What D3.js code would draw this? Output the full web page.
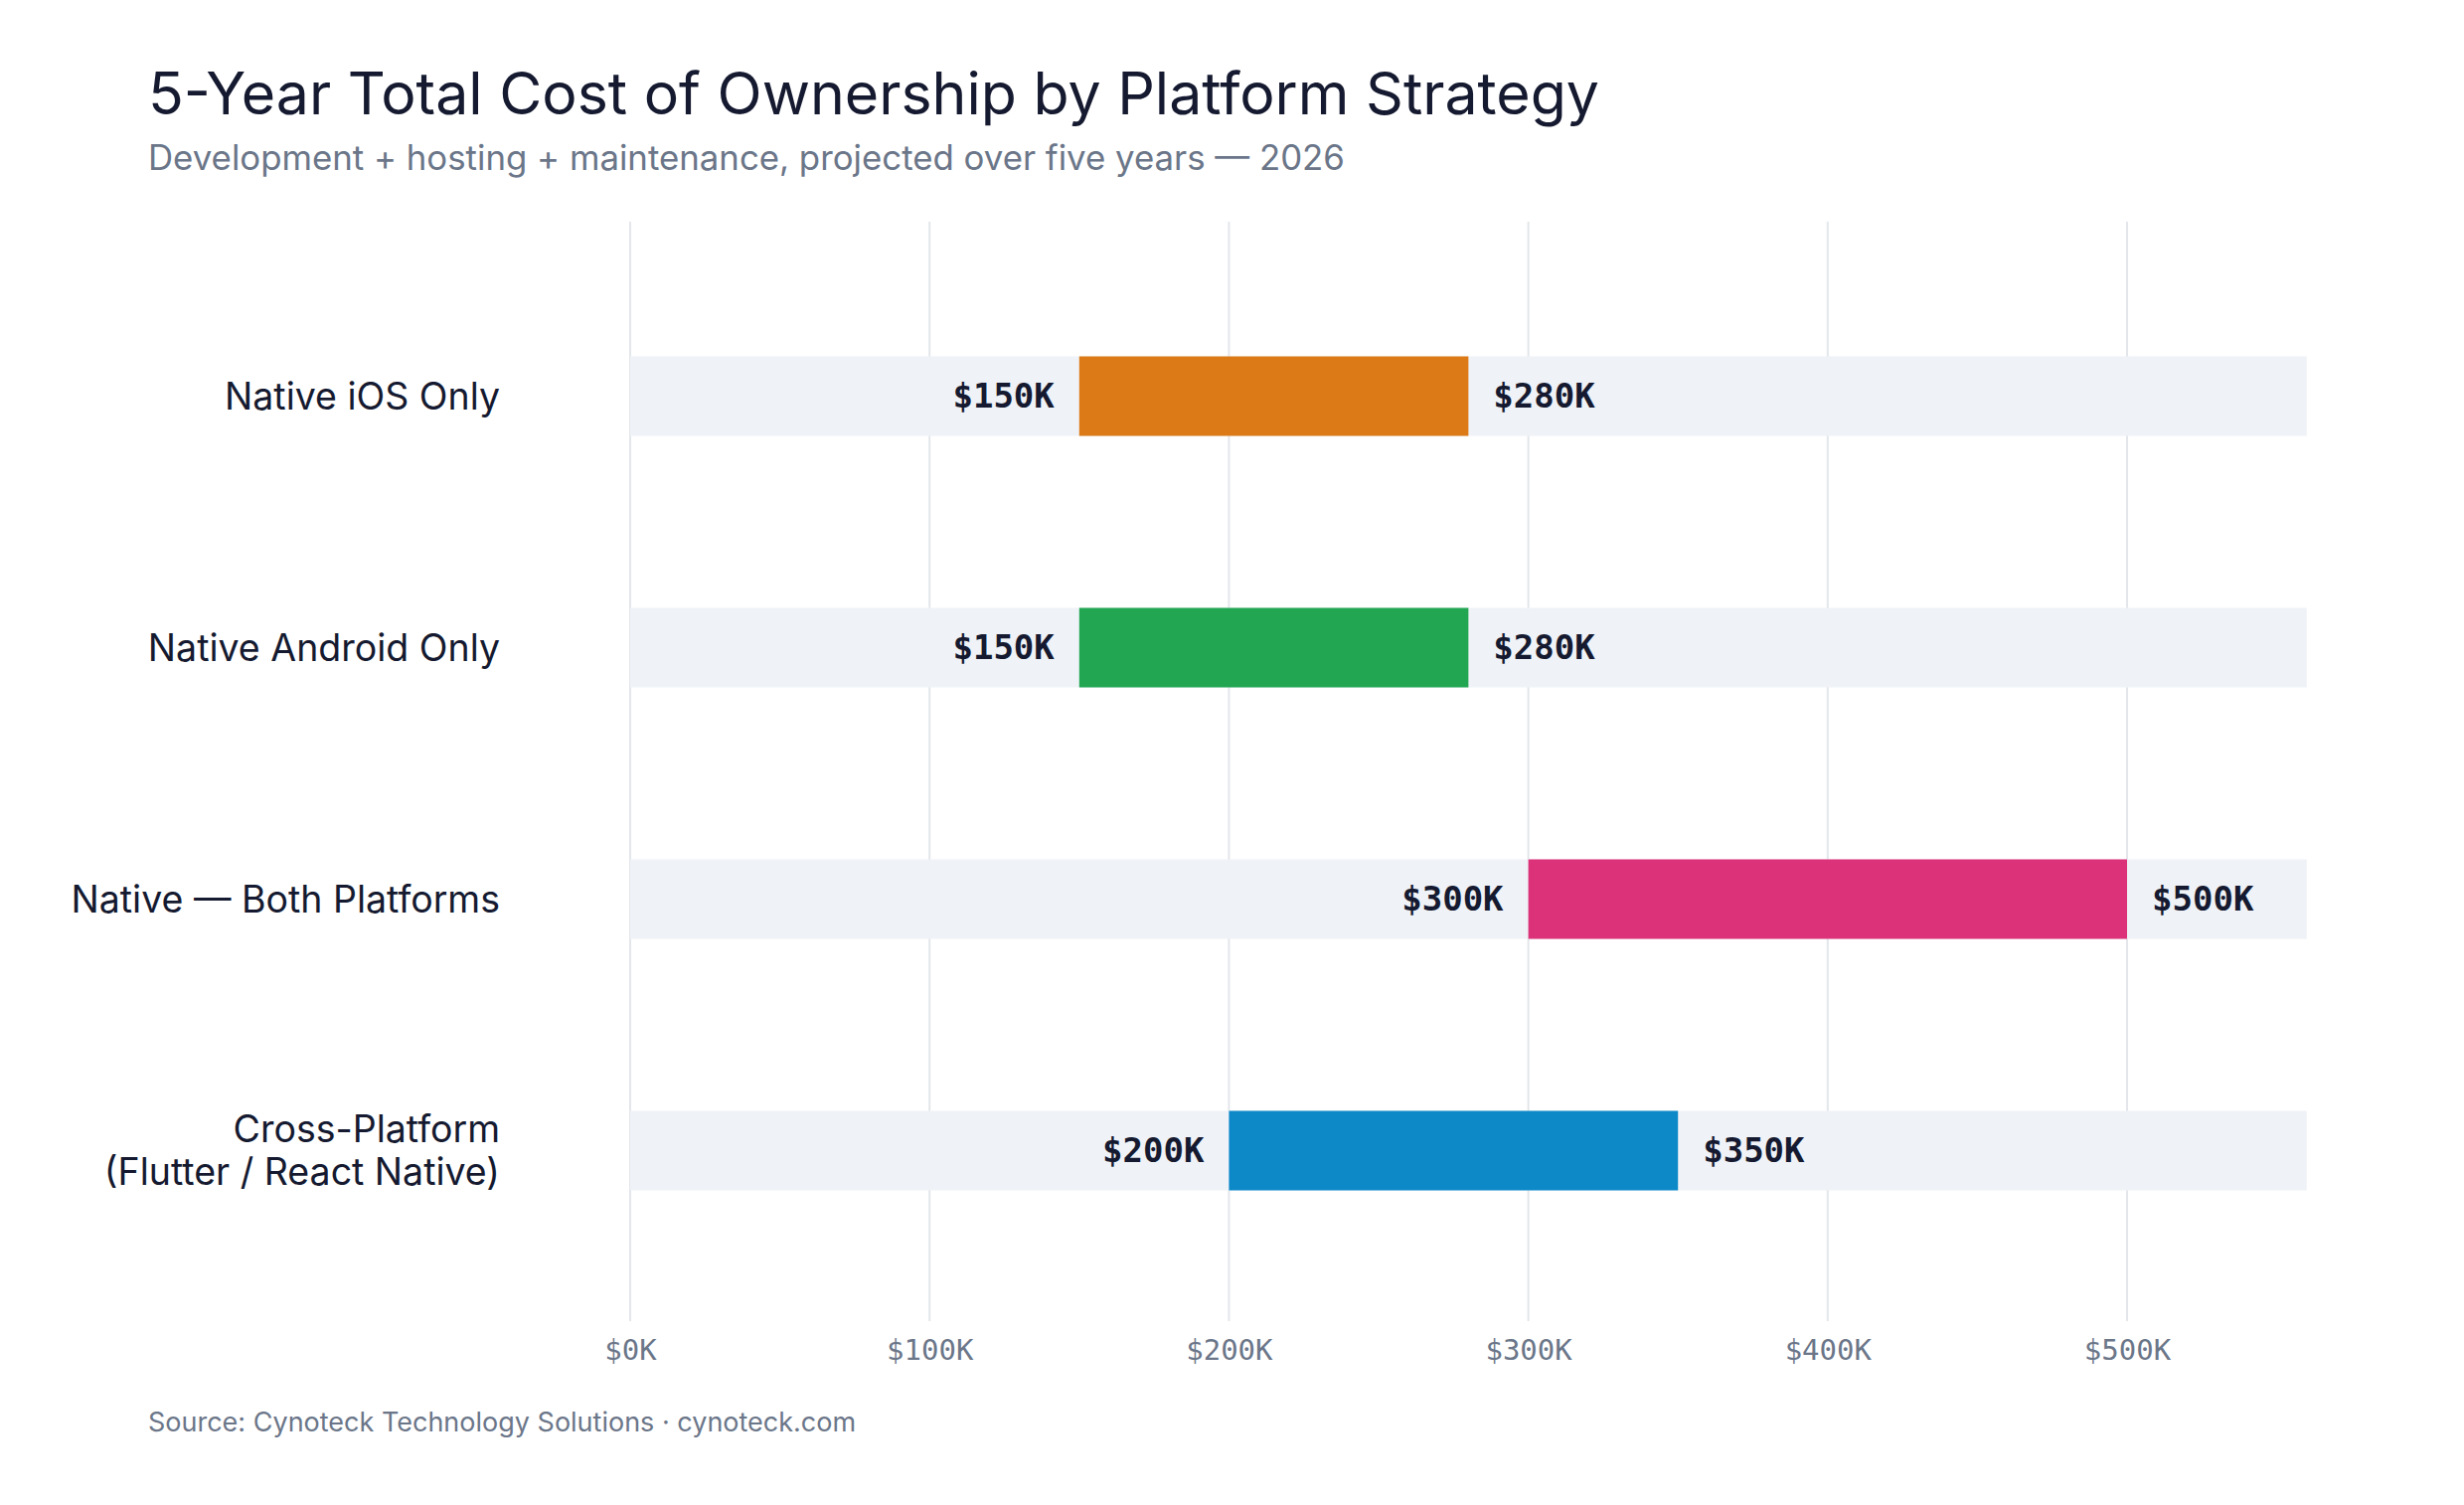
<!DOCTYPE html>
<html>
<head>
<meta charset="utf-8">
<script src="https://cdn.jsdelivr.net/npm/d3@7"></script>
<style>
  body { margin: 0; background: #fff; }
  text { font-family: Inter, "Noto Sans", sans-serif; }
  .mono { font-family: "DejaVu Sans Mono", "Liberation Mono", monospace; }
</style>
</head>
<body>
<svg id="chart" width="2479" height="1514"></svg>
<script>
var categories = ["Native iOS Only", "Native Android Only", "Native \u2014 Both Platforms", "Cross-Platform\n(Flutter / React Native)"];
var lowValues = [150, 150, 300, 200];
var highValues = [280, 280, 500, 350];
var colors = ["#db7a16", "#22a652", "#dc327a", "#0e89c8"];
var tickValues = [0, 100, 200, 300, 400, 500];

var svg = d3.select("#chart");
var margin = { left: 634, right: 160, top: 223, bottom: 185 };
var width = 2479, height = 1514;

var x = d3.scaleLinear().domain([0, 560]).range([margin.left, margin.left + 560 * 3.012]);
var y = d3.scaleBand().domain(categories).range([272, 1284]).paddingInner(0);
var barH = 80;

svg.append("text").attr("x", 149).attr("y", 115)
  .attr("font-size", 59).attr("fill", "#151a30")
  .text("5-Year Total Cost of Ownership by Platform Strategy");
svg.append("text").attr("x", 149).attr("y", 171)
  .attr("font-size", 34.8).attr("fill", "#6b7689")
  .text("Development + hosting + maintenance, projected over five years \u2014 2026");

// grid
svg.append("g").selectAll("line").data(tickValues).enter().append("line")
  .attr("x1", function (d) { return x(d); }).attr("x2", function (d) { return x(d); })
  .attr("y1", 223).attr("y2", 1329)
  .attr("stroke", "#e3e6ea").attr("stroke-width", 2);

// x axis
var axis = svg.append("g").attr("transform", "translate(0,1332)")
  .call(d3.axisBottom(x).tickValues(tickValues).tickSize(0).tickFormat(function (d) { return "$" + d + "K"; }));
axis.select(".domain").remove();
axis.selectAll("text").attr("class", "mono").attr("font-size", 29).attr("fill", "#6b7689").attr("dy", "1.15em");

var rows = svg.append("g").selectAll("g").data(categories).enter().append("g")
  .attr("transform", function (d) { return "translate(0," + (y(d) + y.bandwidth() / 2) + ")"; });

rows.append("rect").attr("x", x(0)).attr("y", -barH / 2)
  .attr("width", x(560) - x(0)).attr("height", barH).attr("fill", "#eff2f7");
rows.append("rect")
  .attr("x", function (d, i) { return x(lowValues[i]); }).attr("y", -barH / 2)
  .attr("width", function (d, i) { return x(highValues[i]) - x(lowValues[i]); })
  .attr("height", barH).attr("fill", function (d, i) { return colors[i]; });

rows.append("text").attr("class", "mono")
  .attr("x", function (d, i) { return x(lowValues[i]) - 25; }).attr("dy", "0.35em")
  .attr("text-anchor", "end").attr("font-size", 34).attr("font-weight", "bold").attr("fill", "#151a30")
  .text(function (d, i) { return "$" + lowValues[i] + "K"; });
rows.append("text").attr("class", "mono")
  .attr("x", function (d, i) { return x(highValues[i]) + 25; }).attr("dy", "0.35em")
  .attr("font-size", 34).attr("font-weight", "bold").attr("fill", "#151a30")
  .text(function (d, i) { return "$" + highValues[i] + "K"; });

rows.each(function (d) {
  var lines = d.split("\n");
  var t = d3.select(this).append("text").attr("x", 503).attr("text-anchor", "end")
    .attr("font-size", 37.5).attr("fill", "#151a30");
  lines.forEach(function (l, k) {
    t.append("tspan").attr("x", 503)
      .attr("y", (k - (lines.length - 1) / 2) * 43).attr("dy", "0.35em").text(l);
  });
});

svg.append("text").attr("x", 149).attr("y", 1440)
  .attr("font-size", 27).attr("fill", "#6b7689")
  .text("Source: Cynoteck Technology Solutions  \u00b7  cynoteck.com");
</script>
</body>
</html>
